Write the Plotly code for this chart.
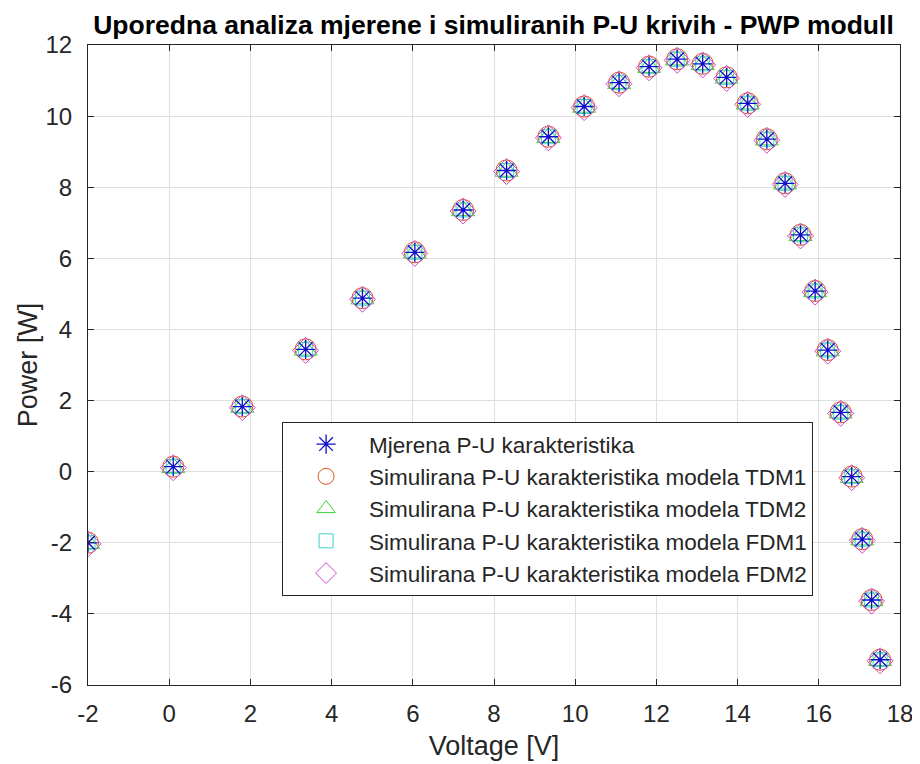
import plotly.graph_objects as go

# Data
voltage = [-2.00, 0.10, 1.80, 3.36, 4.76, 6.05, 7.24, 8.31, 9.34, 10.22, 11.08, 11.82, 12.51,
           13.14, 13.73, 14.25, 14.72, 15.17, 15.55, 15.91, 16.22, 16.54, 16.81, 17.07, 17.30, 17.51]
power_measured = [-2.00, 0.14, 1.83, 3.44, 4.88, 6.17, 7.36, 8.47, 9.42, 10.27, 10.94, 11.39, 11.60,
                  11.47, 11.09, 10.36, 9.35, 8.11, 6.66, 5.08, 3.42, 1.67, -0.14, -1.90, -3.61, -5.29]
power_tdm1 = [-2.00, 0.14, 1.83, 3.44, 4.88, 6.17, 7.36, 8.47, 9.42, 10.27, 10.94, 11.39, 11.60,
              11.47, 11.09, 10.36, 9.35, 8.11, 6.66, 5.08, 3.42, 1.67, -0.14, -1.90, -3.61, -5.29]
power_tdm2 = [-2.02, 0.12, 1.81, 3.42, 4.86, 6.15, 7.34, 8.45, 9.40, 10.25, 10.92, 11.37, 11.58,
              11.45, 11.07, 10.34, 9.33, 8.09, 6.64, 5.06, 3.40, 1.65, -0.16, -1.92, -3.63, -5.31]
power_fdm1 = [-2.00, 0.14, 1.83, 3.44, 4.88, 6.17, 7.36, 8.47, 9.42, 10.27, 10.94, 11.39, 11.60,
              11.47, 11.09, 10.36, 9.35, 8.11, 6.66, 5.08, 3.42, 1.67, -0.14, -1.90, -3.61, -5.29]
power_fdm2 = [-2.03, 0.11, 1.80, 3.41, 4.85, 6.14, 7.33, 8.44, 9.39, 10.24, 10.91, 11.36, 11.57,
              11.44, 11.06, 10.33, 9.32, 8.08, 6.63, 5.05, 3.39, 1.64, -0.17, -1.93, -3.64, -5.32]

series_names = [
    "Mjerena P-U karakteristika",
    "Simulirana P-U karakteristika modela TDM1",
    "Simulirana P-U karakteristika modela TDM2",
    "Simulirana P-U karakteristika modela FDM1",
    "Simulirana P-U karakteristika modela FDM2",
]
x_ticks = [-2, 0, 2, 4, 6, 8, 10, 12, 14, 16, 18]
y_ticks = [-6, -4, -2, 0, 2, 4, 6, 8, 10, 12]

title_text = "Uporedna analiza mjerene i simuliranih P-U krivih - PWP modull"
x_label = "Voltage [V]"
y_label = "Power [W]"

FONT = "Arial, Liberation Sans, Helvetica, sans-serif"
AX = "#262626"

styles = [
    dict(symbol="asterisk-open", size=16, color="#1010c8", width=1.3),
    dict(symbol="circle-open", size=21, color="#D95319", width=1),
    dict(symbol="triangle-up-open", size=20, color="#3cd23c", width=1),
    dict(symbol="square-open", size=14, color="#3cd2d2", width=1),
    dict(symbol="diamond-open", size=20, color="#d048d0", width=1),
]
ys = [power_measured, power_tdm1, power_tdm2, power_fdm1, power_fdm2]

fig = go.Figure()
# draw simulated first, measured on top, but keep legend order
order = [1, 2, 3, 4, 0]
for i in order:
    s = styles[i]
    fig.add_trace(go.Scatter(
        x=voltage, y=ys[i], mode="markers", name=series_names[i],
        legendgroup=f"g{i}", legendrank=i + 1,
        marker=dict(symbol=s["symbol"], size=s["size"], color=s["color"],
                    line=dict(color=s["color"], width=s["width"])),
    ))

axis_common = dict(
    showline=True, linecolor=AX, linewidth=1, mirror="ticks",
    ticks="inside", ticklen=6, tickwidth=1, tickcolor=AX,
    showgrid=True, gridcolor="#dfdfdf", gridwidth=1, zeroline=False,
    tickfont=dict(family=FONT, size=24, color=AX),
    automargin=False,
)

# the page body adds an 8px offset, so the figure is 912x756 and placed at (8, 8)
fig.update_layout(
    width=912, height=756,
    margin=dict(l=80, r=20, t=37, b=79),
    paper_bgcolor="white", plot_bgcolor="white",
    title=dict(text=f"<b>{title_text}</b>", x=485.5 / 912, xref="container", xanchor="center",
               y=1 - 16.5 / 756, yanchor="middle", automargin=False,
               font=dict(family=FONT, size=26.5, color="black")),
    xaxis=dict(range=[-2, 18], tickvals=x_ticks, ticktext=[str(v) for v in x_ticks],
               title=dict(text=x_label, font=dict(family=FONT, size=27, color=AX), standoff=10),
               ticklabelstandoff=7, **axis_common),
    yaxis=dict(range=[-6, 12], tickvals=y_ticks, ticktext=[str(v) for v in y_ticks],
               title=dict(text=y_label, font=dict(family=FONT, size=27, color=AX), standoff=0),
               ticklabelstandoff=10, **axis_common),
    legend=dict(x=0.239, y=0.411, xanchor="left", yanchor="top",
                bgcolor="white", bordercolor=AX, borderwidth=1,
                font=dict(family=FONT, size=22.5, color=AX),
                itemwidth=76, tracegroupgap=0, traceorder="grouped"),
    showlegend=True,
)

fig.write_html("out.html")
